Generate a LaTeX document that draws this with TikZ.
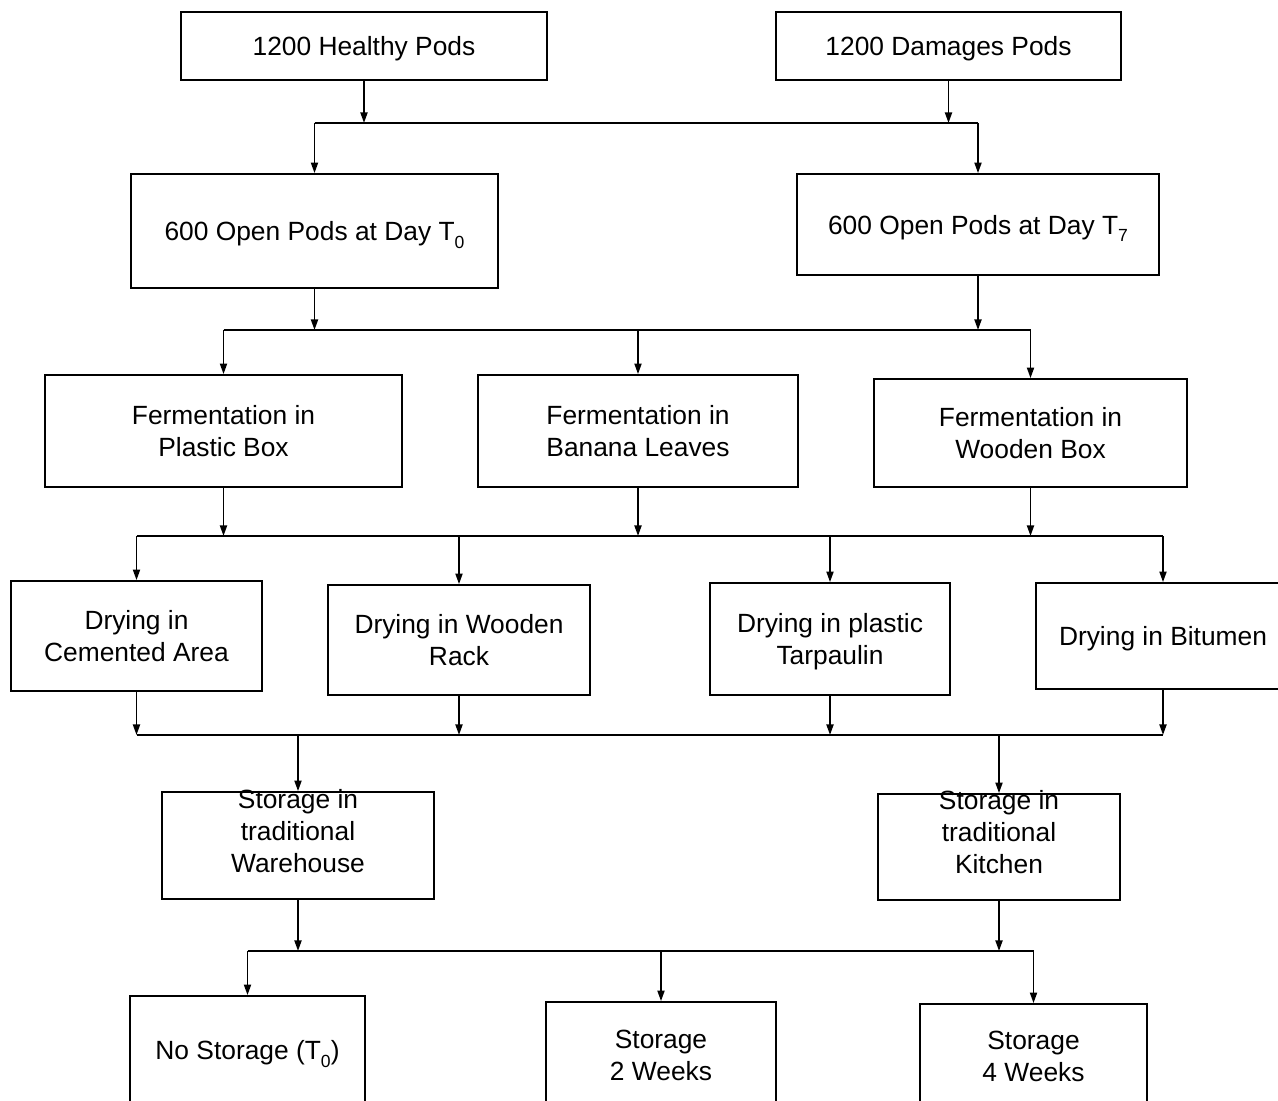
\documentclass[tikz,border=0pt]{standalone}
\usepackage{fontspec}
\setmainfont{Liberation Sans}
\usetikzlibrary{arrows.meta}
\newcommand{\subidx}[1]{\raisebox{-0.55ex}{\fontsize{10}{10}\selectfont #1}}

\begin{document}
\begin{tikzpicture}[x=0.02cm, y=-0.02cm,
    caja/.style={draw, line width=1pt, align=center, inner sep=0pt, text depth=0pt,
        font=\fontsize{15}{18}\selectfont},
    texto/.style={align=center, font=\fontsize{15}{18}\selectfont},
    flecha/.style={-{Triangle[length=6pt,width=4pt]}, line width=1pt},
    linea/.style={line width=1pt}]

    \useasboundingbox (0,0) rectangle (1278,1101);
    \clip (0,0) rectangle (1278,1101);

    % Mazorcas
    \node[caja, minimum width=7.32cm, minimum height=1.36cm] (sanas) at (364,46) {1200 Healthy Pods};
    \node[caja, minimum width=6.9cm, minimum height=1.36cm] (danadas) at (948.5,46) {1200 Damages Pods};

    % Apertura
    \node[caja, minimum width=7.34cm, minimum height=2.28cm] (t0) at (314.5,231) {600 Open Pods at Day T\subidx{0}};
    \node[caja, minimum width=7.24cm, minimum height=2.02cm] (t7) at (978,224.5) {600 Open Pods at Day T\subidx{7}};

    % Fermentacion
    \node[caja, minimum width=7.14cm, minimum height=2.24cm] (plastico) at (223.5,431) {Fermentation in\\Plastic Box};
    \node[caja, minimum width=6.4cm, minimum height=2.24cm] (banano) at (638,431) {Fermentation in\\Banana Leaves};
    \node[caja, minimum width=6.26cm, minimum height=2.16cm] (madera) at (1030.5,433) {Fermentation in\\Wooden Box};

    % Secado
    \node[caja, minimum width=5.02cm, minimum height=2.2cm] (cemento) at (136.5,636) {Drying in\\Cemented Area};
    \node[caja, minimum width=5.24cm, minimum height=2.2cm] (rejilla) at (459,640) {Drying in Wooden\\Rack};
    \node[caja, minimum width=4.8cm, minimum height=2.24cm] (lona) at (830,639) {Drying in plastic\\Tarpaulin};
    \node[caja, minimum width=5.08cm, minimum height=2.12cm] (betun) at (1163,636) {Drying in Bitumen};

    % Almacenamiento
    \node[caja, minimum width=5.44cm, minimum height=2.14cm] (almacen) at (298,845.5) {};
    \node[texto] (almacenT) at (298,831) {Storage in\\traditional\\Warehouse};
    \node[caja, minimum width=4.84cm, minimum height=2.12cm] (cocina) at (999,847) {};
    \node[texto] (cocinaT) at (999,832) {Storage in\\traditional\\Kitchen};

    % Tiempo
    \node[caja, minimum width=4.7cm, minimum height=2.16cm] (sin) at (247.5,1050) {No Storage (T\subidx{0})};
    \node[caja, minimum width=4.6cm, minimum height=2.12cm] (dos) at (661,1055) {Storage\\2 Weeks};
    \node[caja, minimum width=4.54cm, minimum height=2.08cm] (cuatro) at (1033.5,1056) {Storage\\4 Weeks};

    % barras
    \coordinate (b1) at (0,123);
    \coordinate (b2) at (0,330);
    \coordinate (b3) at (0,536);
    \coordinate (b4) at (0,735);
    \coordinate (b5) at (0,951);

    % nivel 1
    \draw[flecha] (sanas.south) -- (sanas.south |- b1);
    \draw[flecha] (danadas.south) -- (danadas.south |- b1);
    \draw[linea] (t0.north |- b1) -- (t7.north |- b1);
    \draw[flecha] (t0.north |- b1) -- (t0.north);
    \draw[flecha] (t7.north |- b1) -- (t7.north);

    % nivel 2
    \draw[flecha] (t0.south) -- (t0.south |- b2);
    \draw[flecha] (t7.south) -- (t7.south |- b2);
    \draw[linea] (plastico.north |- b2) -- (madera.north |- b2);
    \draw[flecha] (plastico.north |- b2) -- (plastico.north);
    \draw[flecha] (banano.north |- b2) -- (banano.north);
    \draw[flecha] (madera.north |- b2) -- (madera.north);

    % nivel 3
    \draw[flecha] (plastico.south) -- (plastico.south |- b3);
    \draw[flecha] (banano.south) -- (banano.south |- b3);
    \draw[flecha] (madera.south) -- (madera.south |- b3);
    \draw[linea] (cemento.north |- b3) -- (betun.north |- b3);
    \draw[flecha] (cemento.north |- b3) -- (cemento.north);
    \draw[flecha] (rejilla.north |- b3) -- (rejilla.north);
    \draw[flecha] (lona.north |- b3) -- (lona.north);
    \draw[flecha] (betun.north |- b3) -- (betun.north);

    % nivel 4
    \draw[flecha] (cemento.south) -- (cemento.south |- b4);
    \draw[flecha] (rejilla.south) -- (rejilla.south |- b4);
    \draw[flecha] (lona.south) -- (lona.south |- b4);
    \draw[flecha] (betun.south) -- (betun.south |- b4);
    \draw[linea] (cemento.south |- b4) -- (betun.south |- b4);
    \draw[flecha] (almacen.north |- b4) -- (almacen.north);
    \draw[flecha] (cocina.north |- b4) -- (cocina.north);

    % nivel 5
    \draw[flecha] (almacen.south) -- (almacen.south |- b5);
    \draw[flecha] (cocina.south) -- (cocina.south |- b5);
    \draw[linea] (sin.north |- b5) -- (cuatro.north |- b5);
    \draw[flecha] (sin.north |- b5) -- (sin.north);
    \draw[flecha] (dos.north |- b5) -- (dos.north);
    \draw[flecha] (cuatro.north |- b5) -- (cuatro.north);

\end{tikzpicture}
\end{document}
